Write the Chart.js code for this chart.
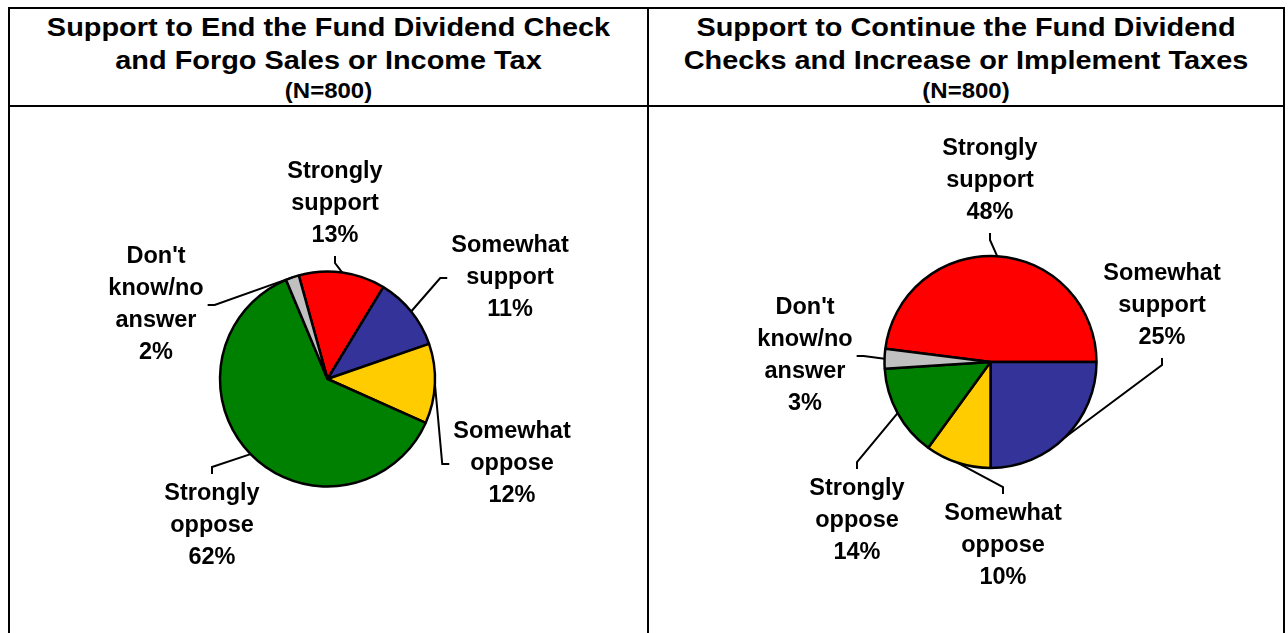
<!DOCTYPE html>
<html>
<head>
<meta charset="utf-8">
<script src="https://cdn.jsdelivr.net/npm/chart.js@4"></script>
<style>
  html, body { margin: 0; padding: 0; background: #fff; }
  body { width: 1288px; height: 633px; position: relative; overflow: hidden; }
  .rule { position: absolute; background: #000; }
  .head {
    position: absolute; text-align: center; white-space: nowrap;
    font-family: "Liberation Sans", Arial, sans-serif; font-weight: bold; color: #000;
    transform: scaleX(1.09); transform-origin: center;
  }
  .big { font-size: 26.5px; line-height: 27px; }
  .small { font-size: 22px; line-height: 22px; }
  canvas { position: absolute; }
</style>
</head>
<body>
<!-- table frame -->
<div class="rule" style="left:8px;top:7px;width:1277px;height:2px"></div>
<div class="rule" style="left:8px;top:105px;width:1277px;height:2px"></div>
<div class="rule" style="left:8px;top:7px;width:2px;height:640px"></div>
<div class="rule" style="left:647px;top:7px;width:2px;height:640px"></div>
<div class="rule" style="left:1283px;top:7px;width:2px;height:640px"></div>

<div class="head big" style="left:10px;width:637px;top:14px">Support to End the Fund Dividend Check</div>
<div class="head big" style="left:10px;width:637px;top:47px">and Forgo Sales or Income Tax</div>
<div class="head small" style="left:10px;width:637px;top:80px">(N=800)</div>

<div class="head big" style="left:649px;width:634px;top:14px">Support to Continue the Fund Dividend</div>
<div class="head big" style="left:649px;width:634px;top:47px">Checks and Increase or Implement Taxes</div>
<div class="head small" style="left:649px;width:634px;top:80px">(N=800)</div>

<canvas id="pieEnd" width="636" height="526" style="left:10px;top:107px"></canvas>
<canvas id="pieContinue" width="634" height="526" style="left:649px;top:107px"></canvas>

<script>
// survey answers, same order in both pies
var categories = ["Strongly support", "Somewhat support", "Somewhat oppose", "Strongly oppose", "Don't know/no answer"];
var labelLines = [["Strongly", "support"], ["Somewhat", "support"], ["Somewhat", "oppose"], ["Strongly", "oppose"], ["Don't", "know/no", "answer"]];
var endCheckPct = [13, 11, 12, 62, 2];
var continueCheckPct = [48, 25, 10, 14, 3];
var sliceColors = ["#FF0000", "#333399", "#FFCC00", "#008000", "#C0C0C0"];

var BORDER = 2.5;
var LINE = 32;   // label line height
var GAP = 4;     // space between label block and leader
var TICK = 7;    // short elbow on the leader

// draws the data labels with their leader lines
var leaderLabels = {
  id: 'leaderLabels',
  afterDatasetsDraw: function(chart, args, opts) {
    var ctx = chart.ctx;
    var meta = chart.getDatasetMeta(0);
    var values = chart.data.datasets[0].data;
    ctx.save();
    ctx.font = 'bold 23.5px "Liberation Sans", Arial, sans-serif';
    ctx.fillStyle = '#000';
    ctx.strokeStyle = '#000';
    ctx.lineWidth = 2;
    ctx.textAlign = 'center';
    ctx.textBaseline = 'middle';
    meta.data.forEach(function(arc, i) {
      var p = arc.getProps(['x', 'y', 'startAngle', 'endAngle', 'outerRadius'], true);
      var mid = (p.startAngle + p.endAngle) / 2;
      var ex = p.x + Math.cos(mid) * p.outerRadius;
      var ey = p.y + Math.sin(mid) * p.outerRadius;
      var place = opts.places[i];
      var lines = labelLines[i].concat(values[i] + '%');
      var lx = p.x + place.dx, ly = p.y + place.dy;
      var h = lines.length * LINE;
      var w = 0;
      lines.forEach(function(t) { w = Math.max(w, ctx.measureText(t).width); });
      var ax, ay, bx, by;
      if (place.side == 'bottom') { ax = lx; ay = ly + h / 2 + GAP; bx = ax; by = ay + TICK; }
      else if (place.side == 'top') { ax = lx; ay = ly - h / 2 - GAP; bx = ax; by = ay - TICK; }
      else if (place.side == 'left') { ax = lx - w / 2 - GAP; ay = ly; bx = ax - TICK; by = ay; }
      else { ax = lx + w / 2 + GAP; ay = ly; bx = ax + TICK; by = ay; }
      ctx.beginPath();
      ctx.moveTo(ax, ay);
      ctx.lineTo(bx, by);
      ctx.lineTo(ex, ey);
      ctx.stroke();
      lines.forEach(function(t, k) {
        ctx.fillText(t, lx, ly - h / 2 + LINE / 2 + k * LINE);
      });
    });
    ctx.restore();
  }
};

function makePie(id, values, rotation, pie, places) {
  var canvas = document.getElementById(id);
  var left = parseFloat(canvas.style.left), top = parseFloat(canvas.style.top);
  var side = 2 * pie.r + BORDER;
  var padL = pie.cx - left - side / 2;
  var padT = pie.cy - top - side / 2;
  var config = {
    type: 'pie',
    data: {
      labels: categories,
      datasets: [{
        data: values,
        backgroundColor: sliceColors,
        borderColor: '#000',
        borderWidth: BORDER
      }]
    },
    options: {
      responsive: false,
      animation: false,
      rotation: rotation,
      layout: {
        padding: {
          left: padL,
          top: padT,
          right: canvas.width - padL - side,
          bottom: canvas.height - padT - side
        }
      },
      plugins: {
        legend: { display: false },
        tooltip: { enabled: false },
        title: { display: false },
        leaderLabels: { places: places }
      }
    },
    plugins: [leaderLabels]
  };
  return new Chart(canvas, config);
}

makePie('pieEnd', endCheckPct, -15.5, { cx: 327.5, cy: 379, r: 107.5 }, [
  { dx: 7.5, dy: -175, side: 'bottom' },
  { dx: 182.5, dy: -101, side: 'left' },
  { dx: 184.5, dy: 85, side: 'left' },
  { dx: -115.5, dy: 147, side: 'top' },
  { dx: -171.5, dy: -74, side: 'right' }
]);

makePie('pieContinue', continueCheckPct, -82.8, { cx: 990.5, cy: 362, r: 106 }, [
  { dx: -0.5, dy: -181, side: 'bottom' },
  { dx: 171.5, dy: -56, side: 'bottom' },
  { dx: 12.5, dy: 184, side: 'top' },
  { dx: -133.5, dy: 159, side: 'top' },
  { dx: -185.5, dy: -6, side: 'right' }
]);
</script>
</body>
</html>
